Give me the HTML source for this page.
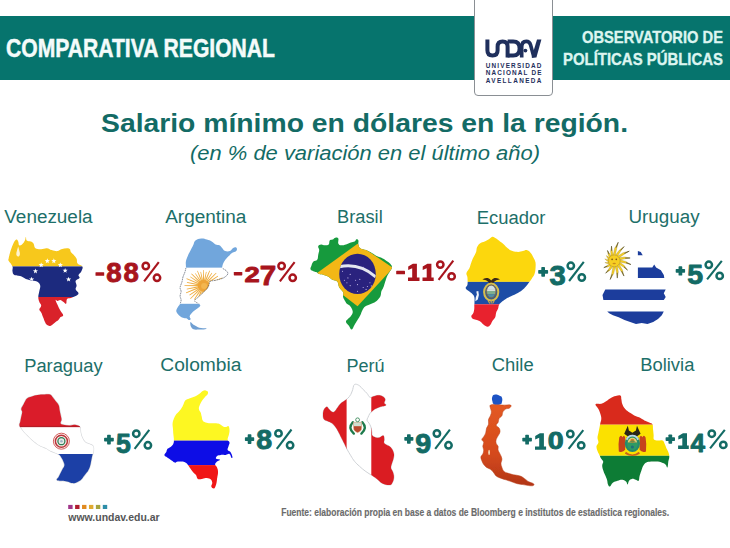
<!DOCTYPE html>
<html><head><meta charset="utf-8"><title>Comparativa regional</title>
<style>
html,body{margin:0;padding:0;background:#fff;}
body{width:730px;height:548px;overflow:hidden;font-family:"Liberation Sans",sans-serif;}
svg{display:block;font-family:"Liberation Sans",sans-serif;}
</style></head><body>
<svg width="730" height="548" viewBox="0 0 730 548">
<defs>
<filter id="soft" x="-5%" y="-5%" width="110%" height="110%"><feGaussianBlur stdDeviation="0.35"/></filter>
<clipPath id="c_ven"><path d="M8.6,258.7C9.0,256.8 9.6,254.1 10.5,251.1C11.5,248.0 12.3,245.7 13.4,243.4C14.6,241.1 15.3,240.0 16.3,239.6C17.2,239.2 17.6,240.3 18.2,241.5C18.8,242.6 18.4,244.8 19.2,245.3C19.9,245.9 20.9,245.3 22.0,244.4C23.2,243.4 24.1,242.1 24.9,240.5C25.7,239.0 25.5,236.7 25.9,236.7C26.2,236.7 25.9,239.6 26.8,240.5C27.8,241.5 29.3,240.9 30.7,241.5C32.0,242.1 32.6,242.1 33.5,243.4C34.5,244.8 33.9,247.0 35.4,248.2C37.0,249.3 38.9,249.2 41.2,249.2C43.5,249.2 44.8,248.0 46.9,248.2C49.0,248.4 49.6,249.5 51.7,250.1C53.8,250.7 55.6,251.3 57.5,251.1C59.4,250.9 59.4,249.7 61.3,249.2C63.2,248.6 65.3,248.2 67.0,248.2C68.8,248.2 69.2,248.4 69.9,249.2C70.7,249.9 70.1,250.9 70.9,252.0C71.6,253.2 72.6,253.6 73.8,254.9C74.9,256.2 75.9,257.0 76.6,258.7C77.4,260.5 76.4,262.0 77.6,263.5C78.7,265.1 81.6,264.9 82.4,266.4C83.1,267.9 82.2,269.5 81.4,271.2C80.7,272.9 78.9,273.7 78.5,275.0C78.2,276.4 80.1,276.7 79.5,277.9C78.9,279.0 76.2,279.2 75.7,280.8C75.1,282.3 76.6,283.8 76.6,285.6C76.6,287.3 75.3,287.9 75.7,289.4C76.1,290.9 78.5,291.9 78.5,293.2C78.5,294.6 77.2,295.1 75.7,296.1C74.1,297.0 72.6,297.4 70.9,298.0C69.2,298.6 68.0,297.8 67.0,299.0C66.1,300.1 66.9,303.2 66.1,303.8C65.3,304.3 64.4,302.6 63.2,301.8C62.1,301.1 61.5,300.1 60.3,299.9C59.2,299.7 58.4,300.9 57.5,300.9C56.5,300.9 55.6,299.2 55.6,299.9C55.6,300.7 56.5,302.6 57.5,304.7C58.4,306.8 59.2,308.4 60.3,310.5C61.5,312.6 63.2,313.9 63.2,315.2C63.2,316.6 61.3,316.2 60.3,317.2C59.4,318.1 59.4,319.1 58.4,320.0C57.5,321.0 57.1,320.8 55.6,322.0C54.0,323.1 52.5,325.2 50.8,325.8C49.0,326.4 48.1,325.6 46.9,324.8C45.8,324.1 45.8,323.5 45.0,322.0C44.3,320.4 43.9,319.1 43.1,317.2C42.3,315.2 42.0,313.9 41.2,312.4C40.4,310.8 39.3,310.8 39.3,309.5C39.3,308.2 41.2,307.2 41.2,305.7C41.2,304.1 39.8,303.6 39.3,301.8C38.7,300.1 38.3,299.2 38.3,297.0C38.3,294.9 38.9,293.6 39.3,291.3C39.7,289.0 40.6,287.5 40.2,285.6C39.8,283.6 38.9,282.7 37.4,281.7C35.8,280.8 34.9,281.3 32.6,280.8C30.3,280.2 28.4,279.8 25.9,278.9C23.4,277.9 22.4,276.7 20.1,276.0C17.8,275.2 15.9,276.0 14.4,275.0C12.8,274.1 12.8,272.9 12.5,271.2C12.1,269.5 13.2,268.5 12.5,266.4C11.7,264.3 9.4,262.2 8.6,260.7C7.9,259.1 8.2,260.7 8.6,258.7Z"/></clipPath>
<clipPath id="c_arg"><path d="M195.4,240.5C197.0,239.4 198.9,238.8 201.2,238.6C203.5,238.4 204.8,239.0 206.9,239.6C209.0,240.2 210.0,240.5 211.7,241.5C213.4,242.5 214.0,243.6 215.6,244.4C217.1,245.1 218.0,244.6 219.4,245.3C220.7,246.1 221.1,247.0 222.3,248.2C223.4,249.3 223.6,250.5 225.1,251.1C226.7,251.6 228.4,251.6 229.9,251.1C231.5,250.5 231.6,249.0 232.8,248.2C233.9,247.4 234.8,247.0 235.7,247.2C236.5,247.4 237.0,248.3 237.0,249.2C237.0,250.0 236.5,250.8 235.7,251.5C234.8,252.1 233.9,251.9 232.8,252.6C231.6,253.3 231.1,253.9 229.9,254.9C228.8,255.9 228.2,256.4 227.0,257.8C225.9,259.1 225.1,259.9 224.2,261.6C223.2,263.3 222.6,265.1 222.3,266.4C222.0,267.7 221.9,267.5 222.6,268.3C223.4,269.2 225.1,269.5 226.1,270.6C227.1,271.7 228.1,272.6 227.8,273.9C227.5,275.2 226.1,276.1 224.8,277.1C223.4,278.1 222.9,278.2 220.9,278.9C219.0,279.5 217.1,279.9 215.0,280.4C212.8,280.9 211.4,280.5 210.2,281.3C209.0,282.2 209.6,283.4 209.0,284.8C208.5,286.1 208.2,286.9 207.5,288.0C206.8,289.2 206.4,289.3 205.4,290.3C204.4,291.4 203.6,292.1 202.5,293.2C201.4,294.3 201.0,294.7 199.8,295.7C198.7,296.7 198.0,297.3 197.0,298.2C195.9,299.1 194.9,299.5 194.7,300.3C194.5,301.1 195.1,301.7 196.0,302.4C196.9,303.1 198.2,303.3 199.1,303.9C199.9,304.6 200.6,304.8 200.2,305.7C199.9,306.6 198.5,307.6 197.4,308.5C196.2,309.5 195.6,309.5 194.5,310.5C193.3,311.4 192.6,312.2 191.6,313.3C190.7,314.5 189.9,315.1 189.7,316.2C189.5,317.4 190.8,318.3 190.7,319.1C190.5,319.8 189.5,320.2 188.7,320.0C188.0,319.9 187.8,318.9 186.8,318.5C185.9,318.1 185.3,318.6 183.9,318.1C182.6,317.7 181.5,317.2 180.1,316.2C178.8,315.2 178.0,314.5 177.2,313.3C176.5,312.2 176.1,311.8 176.3,310.5C176.5,309.1 177.4,308.0 178.2,306.6C179.0,305.3 179.5,305.1 180.1,303.8C180.7,302.4 181.1,301.5 181.1,299.9C181.1,298.4 180.1,297.8 180.1,296.1C180.1,294.4 181.1,293.0 181.1,291.3C181.1,289.6 179.9,289.4 180.1,287.5C180.3,285.6 181.5,283.8 182.0,281.7C182.6,279.6 182.4,278.9 183.0,276.9C183.6,275.0 184.3,274.1 184.9,272.1C185.5,270.2 185.7,269.5 185.9,267.4C186.1,265.2 185.5,263.9 185.9,261.6C186.2,259.3 187.0,257.8 187.8,255.9C188.5,253.9 188.9,253.6 189.7,252.0C190.5,250.5 190.8,249.7 191.6,248.2C192.4,246.7 192.8,245.9 193.5,244.4C194.3,242.8 193.9,241.7 195.4,240.5Z"/></clipPath>
<clipPath id="c_arg2"><path d="M190.7,322.0C191.1,322.0 191.6,323.1 192.6,323.9C193.5,324.6 194.1,325.0 195.4,325.8C196.8,326.6 197.2,327.2 199.3,327.7C201.4,328.2 204.8,328.0 206.0,328.3C207.1,328.6 206.6,329.0 205.0,329.2C203.5,329.5 200.6,329.6 198.3,329.6C196.0,329.6 195.0,329.8 193.5,329.2C192.1,328.7 191.7,327.8 191.0,326.7C190.4,325.7 190.3,324.8 190.3,323.9C190.2,322.9 190.2,322.0 190.7,322.0Z"/></clipPath>
<clipPath id="c_bra"><path d="M318.2,246.3C318.6,245.1 319.7,244.6 321.1,244.4C322.4,244.2 323.4,245.3 324.9,245.3C326.4,245.3 327.8,245.3 328.7,244.4C329.7,243.4 328.9,241.5 329.7,240.5C330.5,239.6 331.4,240.2 332.6,239.6C333.7,239.0 334.3,237.9 335.4,237.7C336.6,237.5 337.7,237.5 338.3,238.6C338.9,239.8 337.7,242.1 338.3,243.4C338.9,244.8 339.7,245.1 341.2,245.3C342.7,245.5 344.1,244.9 346.0,244.4C347.9,243.8 349.0,243.0 350.8,242.5C352.5,241.9 353.4,242.1 354.6,241.5C355.7,240.8 355.7,239.4 356.5,239.2C357.3,239.0 358.0,239.5 358.4,240.5C358.8,241.6 358.0,242.8 358.4,244.4C358.8,245.9 358.8,247.0 360.3,248.2C361.9,249.3 363.8,249.2 366.1,250.1C368.4,251.1 369.7,251.8 371.8,253.0C373.9,254.1 374.7,254.9 376.6,255.9C378.5,256.8 379.5,256.8 381.4,257.8C383.3,258.7 384.5,259.5 386.2,260.7C387.9,261.8 388.9,262.2 390.0,263.5C391.2,264.9 392.0,265.8 392.0,267.4C392.0,268.9 391.0,269.5 390.0,271.2C389.1,272.9 388.1,273.9 387.2,276.0C386.2,278.1 386.0,279.4 385.2,281.7C384.5,284.0 384.1,285.6 383.3,287.5C382.6,289.4 382.0,289.6 381.4,291.3C380.8,293.0 381.2,294.4 380.5,296.1C379.7,297.8 378.9,298.6 377.6,299.9C376.2,301.3 375.5,301.8 373.8,302.8C372.0,303.8 370.7,303.9 369.0,304.7C367.2,305.5 366.5,305.5 365.1,306.6C363.8,307.8 363.2,308.7 362.3,310.5C361.3,312.2 361.3,313.3 360.3,315.2C359.4,317.2 358.6,318.1 357.5,320.0C356.3,322.0 355.7,322.9 354.6,324.8C353.4,326.7 352.9,329.4 351.7,329.6C350.6,329.8 350.0,327.3 348.9,325.8C347.7,324.3 346.2,323.3 346.0,322.0C345.8,320.6 346.9,320.2 347.9,319.1C348.9,317.9 349.8,317.5 350.8,316.2C351.7,314.9 352.5,313.9 352.7,312.4C352.9,310.8 352.3,309.9 351.7,308.5C351.1,307.2 350.8,306.6 349.8,305.7C348.9,304.7 347.9,304.7 346.9,303.8C346.0,302.8 345.8,302.2 345.0,300.9C344.3,299.5 343.5,298.8 343.1,297.0C342.7,295.3 343.9,294.2 343.1,292.3C342.3,290.3 340.4,289.6 339.3,287.5C338.1,285.4 338.7,283.3 337.4,281.7C336.0,280.2 334.3,280.8 332.6,279.8C330.8,278.9 330.5,277.9 328.7,276.9C327.0,276.0 325.9,275.6 323.9,275.0C322.0,274.4 320.7,274.6 319.2,274.1C317.6,273.5 317.4,272.7 316.3,272.1C315.1,271.6 314.6,271.8 313.4,271.2C312.3,270.6 310.9,270.4 310.5,269.3C310.2,268.1 310.9,267.0 311.5,265.4C312.1,263.9 312.3,262.8 313.4,261.6C314.6,260.5 316.3,261.0 317.2,259.7C318.2,258.4 317.8,256.8 318.2,254.9C318.6,253.0 319.2,251.8 319.2,250.1C319.2,248.4 317.8,247.4 318.2,246.3Z"/></clipPath>
<clipPath id="c_ecu"><path d="M492.4,236.7C493.9,236.5 494.7,237.7 496.2,238.6C497.7,239.6 498.5,240.3 500.0,241.5C501.6,242.6 502.3,243.0 503.9,244.4C505.4,245.7 506.0,246.9 507.7,248.2C509.4,249.5 510.4,250.3 512.5,251.1C514.6,251.8 516.1,252.0 518.2,252.0C520.3,252.0 521.3,251.5 523.0,251.1C524.7,250.7 525.3,249.7 526.8,250.1C528.4,250.5 529.3,251.5 530.7,253.0C532.0,254.5 532.6,255.9 533.5,257.8C534.5,259.7 535.1,260.5 535.5,262.6C535.8,264.7 535.7,266.0 535.5,268.3C535.3,270.6 535.3,272.0 534.5,274.1C533.7,276.2 532.8,277.1 531.6,278.9C530.5,280.6 529.9,281.1 528.8,282.7C527.6,284.2 527.2,285.0 525.9,286.5C524.5,288.0 523.8,289.0 522.0,290.3C520.3,291.7 519.4,292.1 517.3,293.2C515.2,294.4 513.8,294.9 511.5,296.1C509.2,297.2 507.7,297.8 505.8,299.0C503.9,300.1 503.3,300.7 501.9,301.8C500.6,303.0 499.8,303.4 499.1,304.7C498.3,306.1 498.7,307.0 498.1,308.5C497.5,310.1 496.8,310.7 496.2,312.4C495.6,314.1 496.0,315.4 495.2,317.2C494.5,318.9 493.3,319.5 492.4,321.0C491.4,322.5 491.4,323.7 490.4,324.8C489.5,326.0 488.9,326.7 487.6,326.7C486.2,326.7 485.1,325.8 483.7,324.8C482.4,323.9 482.2,322.9 480.9,322.0C479.5,321.0 478.6,320.6 477.0,320.0C475.5,319.5 474.3,319.8 473.2,319.1C472.0,318.3 471.3,317.4 471.3,316.2C471.3,315.1 472.6,314.7 473.2,313.3C473.8,312.0 473.9,311.1 474.2,309.5C474.4,307.9 474.3,306.8 474.3,305.3C474.4,303.8 474.5,303.7 474.5,302.0C474.5,300.4 474.8,298.7 474.3,297.0C473.9,295.4 473.4,295.1 472.4,294.0C471.4,292.9 470.7,292.6 469.4,291.5C468.0,290.3 466.1,289.7 465.7,288.2C465.3,286.8 467.1,286.5 467.5,284.4C467.8,282.3 467.6,280.2 467.5,277.9C467.3,275.6 466.1,275.0 466.5,273.1C466.9,271.2 468.4,270.4 469.4,268.3C470.3,266.2 470.5,264.7 471.3,262.6C472.0,260.5 472.2,259.9 473.2,257.8C474.2,255.7 475.3,254.1 476.1,252.0C476.8,249.9 476.3,249.0 477.0,247.2C477.8,245.5 478.4,244.6 479.9,243.4C481.4,242.3 483.0,242.3 484.7,241.5C486.4,240.7 487.0,240.5 488.5,239.6C490.1,238.6 490.8,236.9 492.4,236.7Z"/></clipPath>
<clipPath id="c_uru1"><path d="M637.9,251.1C638.5,250.4 639.8,251.2 640.8,252.0C641.7,252.9 643.3,254.6 642.7,255.3C642.1,255.9 638.9,256.1 637.9,255.3C636.9,254.4 637.3,251.7 637.9,251.1Z"/></clipPath>
<clipPath id="c_uru2"><path d="M637.9,267.4C640.8,265.2 649.0,267.9 652.3,267.4C655.5,266.8 653.4,264.5 654.2,264.5C654.9,264.5 654.8,266.2 656.1,267.4C657.4,268.5 659.3,268.7 660.9,270.2C662.4,271.8 663.1,273.5 663.8,275.0C664.4,276.6 669.5,277.3 664.3,277.9C659.2,278.5 643.2,280.0 637.9,277.9C632.6,275.8 635.0,269.5 637.9,267.4Z"/></clipPath>
<clipPath id="c_uru3"><path d="M605.3,289.4C617.6,289.0 654.0,288.6 665.7,289.4C677.4,290.2 663.8,291.7 663.8,293.2C663.8,294.8 665.7,295.7 665.7,297.0C665.7,298.4 676.2,299.3 663.8,299.9C651.3,300.5 615.7,300.9 603.4,299.9C591.1,299.0 602.3,296.9 602.5,295.1C602.6,293.4 603.8,292.5 604.4,291.3C604.9,290.2 593.1,289.8 605.3,289.4Z"/></clipPath>
<clipPath id="c_uru4"><path d="M607.2,311.4C618.2,311.0 652.8,310.7 663.8,311.4C674.7,312.2 663.0,313.7 661.8,315.2C660.7,316.8 659.7,317.7 658.0,319.1C656.3,320.4 655.3,321.0 653.2,322.0C651.1,322.9 649.8,323.7 647.5,323.9C645.2,324.1 644.0,322.9 641.7,322.9C639.4,322.9 638.3,324.1 636.0,323.9C633.7,323.7 632.5,322.7 630.2,322.0C627.9,321.2 626.8,321.0 624.5,320.0C622.2,319.1 621.0,318.1 618.7,317.2C616.4,316.2 614.9,316.0 613.0,315.2C611.1,314.5 610.3,314.1 609.2,313.3C608.0,312.6 596.3,311.8 607.2,311.4Z"/></clipPath>
<clipPath id="c_par"><path d="M27.0,398.4C28.4,397.5 29.7,397.2 31.8,396.5C33.9,395.8 35.1,395.3 37.6,395.0C40.1,394.6 41.8,394.7 44.3,394.6C46.8,394.5 48.3,394.0 50.0,394.6C51.7,395.2 51.7,396.1 52.9,397.5C54.0,398.8 54.6,399.8 55.8,401.3C56.9,402.8 57.9,403.4 58.6,405.1C59.4,406.8 59.2,408.0 59.6,409.9C60.0,411.8 60.2,412.8 60.6,414.7C60.9,416.6 61.5,417.8 61.5,419.5C61.5,421.2 60.2,422.2 60.6,423.3C60.9,424.4 61.7,424.4 63.4,424.8C65.2,425.3 67.1,425.6 69.2,425.6C71.3,425.6 72.2,424.8 74.0,424.8C75.7,424.8 76.6,425.1 77.8,425.6C79.0,426.1 79.5,426.1 80.1,427.5C80.7,429.0 80.2,430.7 80.7,432.9C81.2,435.1 81.6,436.7 82.6,438.6C83.5,440.6 83.9,441.3 85.5,442.5C87.0,443.6 88.7,443.6 90.2,444.4C91.8,445.2 92.5,445.0 93.1,446.3C93.8,447.6 93.7,449.2 93.5,451.1C93.3,453.0 92.6,454.0 92.2,455.9C91.7,457.8 91.6,458.8 91.2,460.7C90.8,462.6 90.8,463.5 90.2,465.5C89.7,467.4 89.3,468.5 88.3,470.2C87.4,472.0 86.6,472.5 85.5,474.1C84.3,475.6 83.7,476.6 82.6,477.9C81.4,479.3 81.1,479.8 79.7,480.8C78.4,481.7 77.4,482.2 75.9,482.7C74.3,483.2 73.6,483.3 72.0,483.1C70.5,482.9 69.9,482.2 68.2,481.7C66.5,481.3 65.2,481.0 63.4,480.8C61.7,480.6 60.9,481.0 59.6,480.8C58.3,480.6 56.9,480.6 56.7,479.8C56.5,479.1 57.9,478.3 58.6,477.0C59.4,475.6 59.8,474.7 60.6,473.1C61.3,471.6 61.7,470.8 62.5,469.3C63.2,467.8 64.2,467.0 64.4,465.5C64.6,463.9 64.0,463.2 63.4,461.6C62.9,460.1 62.3,459.1 61.5,457.8C60.7,456.5 60.7,455.9 59.6,454.9C58.4,454.0 57.5,453.8 55.8,453.0C54.0,452.2 52.9,452.0 51.0,451.1C49.1,450.1 48.1,449.2 46.2,448.2C44.3,447.3 43.3,447.3 41.4,446.3C39.5,445.3 38.5,444.8 36.6,443.4C34.7,442.1 33.5,441.1 31.8,439.6C30.1,438.1 29.5,437.3 28.0,435.8C26.5,434.2 25.5,433.5 24.2,431.9C22.8,430.4 22.2,429.4 21.3,428.1C20.3,426.8 19.6,426.6 19.4,425.2C19.2,423.9 19.9,423.1 20.3,421.4C20.7,419.7 20.9,418.5 21.3,416.6C21.7,414.7 22.2,413.4 22.2,411.8C22.2,410.3 21.1,410.3 21.3,408.9C21.5,407.6 22.4,406.6 23.2,405.1C24.0,403.6 24.3,402.6 25.1,401.3C25.9,399.9 25.7,399.4 27.0,398.4Z"/></clipPath>
<clipPath id="c_col"><path d="M205.6,390.4C206.6,390.5 207.5,390.9 207.9,391.7C208.2,392.5 208.1,393.4 207.5,394.6C206.8,395.7 205.7,396.1 204.6,397.5C203.4,398.8 202.7,399.8 201.7,401.3C200.8,402.8 200.4,403.6 199.8,405.1C199.2,406.6 198.7,407.4 198.9,408.9C199.0,410.5 200.2,411.2 200.8,412.8C201.3,414.3 201.3,415.1 201.7,416.6C202.1,418.1 201.9,419.3 202.7,420.4C203.4,421.6 204.0,421.8 205.6,422.4C207.1,422.9 208.2,423.1 210.3,423.3C212.5,423.5 214.2,423.1 216.1,423.3C218.0,423.5 218.6,423.7 219.9,424.3C221.3,424.8 221.6,425.6 222.8,426.2C223.9,426.8 224.5,427.1 225.7,427.1C226.8,427.1 227.8,425.6 228.5,426.2C229.3,426.8 229.4,428.3 229.5,430.0C229.6,431.7 229.3,432.9 228.9,434.8C228.5,436.7 227.5,438.1 227.6,439.6C227.7,441.1 229.3,441.1 229.5,442.5C229.7,443.8 228.9,444.8 228.5,446.3C228.2,447.8 227.2,449.0 227.6,450.1C228.0,451.3 229.5,450.7 230.5,452.0C231.4,453.4 232.2,455.7 232.4,456.8C232.6,458.0 232.0,458.4 231.4,457.8C230.8,457.2 230.7,454.5 229.5,454.0C228.4,453.4 227.4,454.7 225.7,454.9C223.9,455.1 222.6,454.7 220.9,454.9C219.2,455.1 218.0,455.1 217.0,455.9C216.1,456.6 215.5,458.0 216.1,458.8C216.7,459.5 219.7,459.1 219.9,459.7C220.1,460.3 218.0,460.7 217.0,461.6C216.1,462.6 215.1,463.4 215.1,464.5C215.1,465.7 216.5,465.8 217.0,467.4C217.6,468.9 218.0,469.9 218.0,472.2C218.0,474.5 217.4,476.4 217.0,478.9C216.7,481.4 216.7,482.7 216.1,484.6C215.5,486.5 215.1,488.1 214.2,488.4C213.2,488.8 211.7,487.7 211.3,486.5C210.9,485.4 212.5,484.2 212.3,482.7C212.1,481.2 211.7,479.8 210.3,478.9C209.0,477.9 207.3,477.9 205.6,477.9C203.8,477.9 203.3,478.7 201.7,478.9C200.2,479.1 199.0,479.6 197.9,478.9C196.7,478.1 196.9,476.4 196.0,475.0C195.0,473.7 194.3,473.5 193.1,472.2C192.0,470.8 191.2,469.7 190.2,468.3C189.3,467.0 189.3,466.6 188.3,465.5C187.4,464.3 186.8,463.4 185.4,462.6C184.1,461.8 183.1,461.8 181.6,461.6C180.1,461.4 179.1,461.4 177.8,461.6C176.4,461.8 176.1,462.8 174.9,462.6C173.8,462.4 173.2,461.4 172.0,460.7C170.9,459.9 170.3,459.5 169.2,458.8C168.0,458.0 167.2,457.6 166.3,456.8C165.3,456.1 164.4,455.9 164.4,454.9C164.4,454.0 165.7,453.2 166.3,452.0C166.9,450.9 166.5,450.1 167.2,449.2C168.0,448.2 169.0,448.2 170.1,447.3C171.3,446.3 172.2,445.7 173.0,444.4C173.8,443.0 173.9,442.5 173.9,440.6C174.0,438.6 173.6,437.1 173.4,434.8C173.2,432.5 173.1,431.4 173.0,429.1C172.8,426.8 172.4,425.4 172.6,423.3C172.8,421.2 173.3,420.2 173.9,418.5C174.6,416.8 174.9,416.0 175.9,414.7C176.8,413.4 177.6,413.2 178.7,411.8C179.9,410.5 180.7,409.5 181.6,408.0C182.6,406.5 182.8,405.7 183.5,404.2C184.3,402.6 184.3,401.5 185.4,400.3C186.6,399.2 187.4,399.2 189.3,398.4C191.2,397.6 192.9,397.5 195.0,396.5C197.1,395.5 198.3,394.7 199.8,393.6C201.3,392.5 201.5,391.8 202.7,391.1C203.8,390.5 204.5,390.2 205.6,390.4Z"/></clipPath>
<clipPath id="c_per"><path d="M355.6,384.2C356.7,384.2 357.9,384.7 359.4,385.7C360.9,386.8 361.7,388.0 363.2,389.6C364.8,391.1 365.7,391.9 367.0,393.4C368.4,394.9 368.6,396.7 369.9,397.2C371.3,397.8 372.0,396.7 373.8,396.3C375.5,395.9 376.8,395.3 378.5,395.3C380.3,395.3 381.0,395.5 382.4,396.3C383.7,397.0 384.9,397.8 385.2,399.2C385.6,400.5 384.1,401.8 384.3,403.0C384.5,404.1 386.2,404.3 386.2,404.9C386.2,405.5 385.4,405.5 384.3,405.9C383.1,406.2 382.2,406.2 380.5,406.8C378.7,407.4 377.2,408.0 375.7,408.7C374.1,409.5 373.9,409.7 372.8,410.7C371.6,411.6 370.9,412.2 369.9,413.5C369.0,414.9 368.6,416.0 368.0,417.4C367.4,418.7 366.9,419.1 367.0,420.2C367.2,421.4 368.2,421.8 369.0,423.1C369.7,424.4 370.3,425.2 370.9,426.9C371.5,428.7 371.5,430.0 371.8,431.7C372.1,433.4 371.6,434.4 372.4,435.6C373.2,436.7 374.3,437.1 375.7,437.5C377.1,437.9 378.0,437.9 379.5,437.5C381.0,437.1 382.4,435.2 383.3,435.6C384.3,435.9 384.1,437.9 384.3,439.4C384.5,440.9 383.3,441.9 384.3,443.2C385.2,444.6 387.5,444.9 389.1,446.1C390.6,447.2 391.0,447.4 392.0,449.0C392.9,450.5 393.6,451.8 393.9,453.8C394.2,455.7 393.9,456.6 393.5,458.5C393.1,460.5 392.5,461.4 392.0,463.3C391.5,465.2 390.8,466.4 391.0,468.1C391.2,469.8 392.3,470.0 392.9,472.0C393.5,473.9 394.1,475.4 393.9,477.7C393.7,480.0 392.9,482.0 392.0,483.4C391.0,484.9 391.0,485.0 389.1,485.0C387.2,485.0 384.9,484.7 382.4,483.4C379.9,482.2 378.9,480.4 376.6,478.7C374.3,476.9 373.2,476.4 370.9,474.8C368.6,473.3 367.4,472.7 365.1,471.0C362.8,469.3 361.5,468.1 359.4,466.2C357.3,464.3 356.3,463.5 354.6,461.4C352.9,459.3 352.3,458.2 350.8,455.7C349.2,453.2 348.3,451.5 346.9,449.0C345.6,446.5 345.2,445.5 344.1,443.2C342.9,440.9 342.3,439.8 341.2,437.5C340.0,435.2 339.5,433.8 338.3,431.7C337.2,429.6 336.8,428.7 335.4,426.9C334.1,425.2 333.1,424.3 331.6,423.1C330.1,422.0 329.3,422.0 327.8,421.2C326.2,420.4 324.9,420.6 323.9,419.3C323.0,417.9 323.0,416.4 323.0,414.5C323.0,412.6 323.2,411.2 323.9,409.7C324.7,408.2 325.9,407.0 326.8,406.8C327.8,406.6 327.8,407.8 328.7,408.7C329.7,409.7 330.5,411.0 331.6,411.6C332.8,412.2 333.3,412.4 334.5,411.6C335.6,410.8 336.2,409.3 337.4,407.8C338.5,406.2 338.9,405.3 340.2,403.9C341.6,402.6 342.5,402.2 344.1,401.1C345.6,399.9 346.6,399.5 347.9,398.2C349.2,396.9 349.8,396.1 350.8,394.4C351.7,392.6 352.1,391.3 352.7,389.6C353.3,387.9 353.1,386.8 353.6,385.7C354.2,384.7 354.4,384.2 355.6,384.2Z"/></clipPath>
<clipPath id="c_chi_b"><path d="M492.4,396.5C492.9,395.2 493.9,394.8 495.2,394.6C496.6,394.4 497.7,395.0 499.1,395.5C500.4,396.1 501.4,396.1 501.9,397.5C502.5,398.8 502.3,400.9 501.9,402.2C501.6,403.6 501.6,403.8 500.0,404.2C498.5,404.5 495.8,404.7 494.3,404.2C492.7,403.6 492.7,402.8 492.4,401.3C492.0,399.8 491.8,397.8 492.4,396.5Z"/></clipPath>
<clipPath id="c_chi"><path d="M490.4,405.1C491.6,404.3 493.7,404.2 496.2,404.2C498.7,404.2 500.0,404.9 502.9,405.1C505.8,405.3 509.2,404.5 510.6,405.1C511.9,405.7 510.6,407.2 509.6,408.0C508.6,408.8 507.1,408.2 505.8,408.9C504.4,409.7 503.7,410.5 502.9,411.8C502.1,413.2 502.7,414.3 501.9,415.7C501.2,417.0 499.8,417.2 499.1,418.5C498.3,419.9 498.7,421.0 498.1,422.4C497.5,423.7 496.0,424.1 496.2,425.2C496.4,426.4 498.3,426.8 499.1,428.1C499.8,429.4 500.2,430.4 500.0,431.9C499.8,433.5 498.9,434.2 498.1,435.8C497.3,437.3 496.6,438.1 496.2,439.6C495.8,441.1 495.8,442.1 496.2,443.4C496.6,444.8 497.7,445.0 498.1,446.3C498.5,447.6 497.7,448.6 498.1,450.1C498.5,451.7 499.3,452.2 500.0,454.0C500.8,455.7 501.7,456.8 501.9,458.8C502.1,460.7 501.0,461.8 501.0,463.5C501.0,465.3 501.4,465.8 501.9,467.4C502.5,468.9 502.7,470.1 503.9,471.2C505.0,472.4 505.8,472.4 507.7,473.1C509.6,473.8 510.9,474.1 513.4,474.7C515.9,475.2 517.8,475.2 520.1,476.0C522.4,476.8 523.2,477.7 524.9,478.9C526.6,480.0 527.0,480.8 528.8,481.7C530.5,482.7 532.7,482.9 533.5,483.7C534.4,484.4 534.1,485.2 533.2,485.6C532.2,486.0 530.8,485.8 528.8,485.6C526.7,485.4 525.3,485.0 523.0,484.6C520.7,484.2 519.6,484.2 517.3,483.7C515.0,483.1 513.8,482.5 511.5,481.7C509.2,481.0 508.1,480.6 505.8,479.8C503.5,479.1 501.9,478.7 500.0,477.9C498.1,477.1 497.5,477.1 496.2,476.0C494.8,474.8 494.5,473.5 493.3,472.2C492.2,470.8 491.8,470.2 490.4,469.3C489.1,468.3 488.0,468.3 486.6,467.4C485.3,466.4 484.7,465.8 483.7,464.5C482.8,463.2 482.4,462.2 481.8,460.7C481.2,459.1 480.7,458.2 480.9,456.8C481.1,455.5 482.2,455.3 482.8,454.0C483.4,452.6 483.7,451.7 483.7,450.1C483.7,448.6 482.8,447.8 482.8,446.3C482.8,444.8 483.9,443.8 483.7,442.5C483.5,441.1 481.8,440.7 481.8,439.6C481.8,438.4 483.0,438.1 483.7,436.7C484.5,435.4 485.1,434.6 485.7,432.9C486.2,431.2 486.0,429.8 486.6,428.1C487.2,426.4 488.1,426.0 488.5,424.3C488.9,422.5 488.1,421.2 488.5,419.5C488.9,417.8 489.9,417.2 490.4,415.7C491.0,414.1 491.4,413.4 491.4,411.8C491.4,410.3 490.6,409.3 490.4,408.0C490.2,406.6 489.3,405.9 490.4,405.1Z"/></clipPath>
<clipPath id="c_bol"><path d="M595.5,404.2C596.1,403.1 599.2,404.3 601.3,403.8C603.4,403.2 604.2,402.4 606.1,401.3C608.0,400.1 608.9,399.1 610.9,398.0C612.8,397.0 613.7,396.6 615.7,396.1C617.6,395.6 619.3,394.9 620.4,395.5C621.6,396.2 621.0,397.6 621.4,399.4C621.8,401.1 621.6,402.2 622.4,404.2C623.1,406.1 623.7,407.2 625.2,408.9C626.8,410.7 628.1,411.4 630.0,412.8C631.9,414.1 632.9,414.7 634.8,415.7C636.7,416.6 637.7,416.6 639.6,417.6C641.5,418.5 642.5,419.5 644.4,420.4C646.3,421.4 647.6,421.6 649.2,422.4C650.8,423.1 651.7,422.9 652.4,424.3C653.2,425.6 652.8,427.0 653.0,429.1C653.2,431.2 653.4,432.7 653.6,434.8C653.8,436.9 653.1,438.4 654.0,439.6C654.8,440.7 656.1,440.4 657.8,440.6C659.5,440.7 661.2,440.0 662.6,440.6C663.9,441.1 663.7,441.9 664.5,443.4C665.3,445.0 665.7,446.5 666.4,448.2C667.2,449.9 667.8,450.3 668.3,452.0C668.9,453.8 669.3,454.9 669.3,456.8C669.3,458.8 668.7,459.5 668.3,461.6C668.0,463.7 668.0,466.8 667.4,467.4C666.8,468.0 666.6,465.5 665.5,464.5C664.3,463.5 663.4,463.2 661.6,462.6C659.9,462.0 658.9,461.8 656.8,461.6C654.7,461.4 653.2,461.4 651.1,461.6C649.0,461.8 647.8,461.8 646.3,462.6C644.8,463.4 644.4,463.9 643.4,465.5C642.5,467.0 642.3,468.1 641.5,470.2C640.7,472.4 640.2,473.9 639.6,476.0C639.0,478.1 639.4,480.0 638.6,480.8C637.9,481.6 637.1,480.2 635.8,479.8C634.4,479.4 633.3,478.7 631.9,478.9C630.6,479.1 629.9,479.6 629.1,480.8C628.2,481.9 628.1,484.4 627.5,484.6C627.0,484.8 627.2,482.7 626.2,481.7C625.2,480.8 624.1,480.0 622.4,479.8C620.6,479.6 619.5,480.2 617.6,480.8C615.7,481.4 614.3,481.6 612.8,482.7C611.2,483.9 610.9,486.1 609.9,486.5C608.9,486.9 608.6,486.0 608.0,484.6C607.4,483.3 607.6,481.7 607.0,479.8C606.5,477.9 605.9,477.0 605.1,475.0C604.3,473.1 603.8,472.2 603.2,470.2C602.6,468.3 602.2,467.2 602.2,465.5C602.2,463.7 603.4,463.0 603.2,461.6C603.0,460.3 602.0,460.1 601.3,458.8C600.5,457.4 600.1,456.5 599.4,454.9C598.6,453.4 598.0,452.8 597.5,451.1C596.9,449.4 596.3,448.0 596.5,446.3C596.7,444.6 598.2,444.2 598.4,442.5C598.6,440.7 597.5,439.6 597.5,437.7C597.5,435.8 598.0,434.8 598.4,432.9C598.8,431.0 599.0,430.0 599.4,428.1C599.8,426.2 599.9,425.2 600.3,423.3C600.7,421.4 601.3,420.4 601.3,418.5C601.3,416.6 600.9,415.7 600.3,413.7C599.8,411.8 599.4,410.9 598.4,408.9C597.5,407.0 595.0,405.2 595.5,404.2Z"/></clipPath>
</defs>
<rect width="730" height="548" fill="#ffffff"/>
<rect x="0" y="16" width="730" height="64" fill="#06746d"/>
<path d="M474.5,-2 V92 Q474.5,95.5 478,95.5 H549 Q552.5,95.5 552.5,92 V-2 Z" fill="#ffffff" stroke="#8a8f94" stroke-width="1"/>
<text x="6" y="57" font-size="25.2" font-weight="bold" fill="#f4fbfa" stroke="#f4fbfa" stroke-width="0.5" textLength="269" lengthAdjust="spacingAndGlyphs">COMPARATIVA REGIONAL</text>
<text x="582" y="43.3" font-size="16.4" font-weight="bold" fill="#dcf5f0" stroke="#dcf5f0" stroke-width="0.35" textLength="141" lengthAdjust="spacingAndGlyphs">OBSERVATORIO DE</text>
<text x="563" y="64.8" font-size="16.4" font-weight="bold" fill="#dcf5f0" stroke="#dcf5f0" stroke-width="0.35" textLength="160" lengthAdjust="spacingAndGlyphs">POLÍTICAS PÚBLICAS</text>
<g fill="none" stroke="#1f2f5c" stroke-width="4" stroke-linejoin="round">
<path d="M487.4,39.5 V50.2 Q487.4,55.5 492.5,55.5 Q497.6,55.5 497.6,50.2 V46.8 Q497.6,41.5 502.6,41.5 Q507.6,41.5 507.6,46.8 V57.5"/>
<path d="M507.6,41.5 H513.2 Q519.6,41.5 519.6,48.5 Q519.6,55.5 513.2,55.5 H507.6"/>
</g>
<path d="M521.7,57.5 V47 Q521.7,41.4 526.3,41.4 Q529.6,41.4 530.6,45 L534,57.5" fill="none" stroke="#1f2f5c" stroke-width="3.6"/>
<polygon points="531.6,57.5 536.4,57.5 541.4,39.5 537.0,39.5" fill="#1f2f5c"/>
<circle cx="525.4" cy="50.6" r="1.9" fill="#1f2f5c"/>
<text x="485.8" y="68.1" font-size="6.4" font-weight="bold" fill="#1f2f5c" textLength="55.6" lengthAdjust="spacing">UNIVERSIDAD</text>
<text x="485.8" y="75.4" font-size="6.4" font-weight="bold" fill="#1f2f5c" textLength="55.6" lengthAdjust="spacing">NACIONAL DE</text>
<text x="485.8" y="82.8" font-size="6.4" font-weight="bold" fill="#1f2f5c" textLength="55.6" lengthAdjust="spacing">AVELLANEDA</text>
<text x="101" y="131.8" font-size="26.6" font-weight="bold" fill="#136b65" textLength="527" lengthAdjust="spacingAndGlyphs">Salario mínimo en dólares en la región.</text>
<text x="190" y="160.4" font-size="19.6" font-style="italic" fill="#136b65" textLength="350" lengthAdjust="spacingAndGlyphs">(en % de variación en el último año)</text>
<text x="4.3" y="222.8" font-size="18" fill="#1d6f69" textLength="88.3" lengthAdjust="spacingAndGlyphs">Venezuela</text>
<text x="165.2" y="222.8" font-size="18" fill="#1d6f69" textLength="81.2" lengthAdjust="spacingAndGlyphs">Argentina</text>
<text x="337.1" y="223" font-size="18" fill="#1d6f69" textLength="45.6" lengthAdjust="spacingAndGlyphs">Brasil</text>
<text x="476.7" y="223.6" font-size="18" fill="#1d6f69" textLength="68.7" lengthAdjust="spacingAndGlyphs">Ecuador</text>
<text x="628.5" y="222.8" font-size="18" fill="#1d6f69" textLength="71.2" lengthAdjust="spacingAndGlyphs">Uruguay</text>
<text x="24.2" y="372" font-size="18" fill="#1d6f69" textLength="78.4" lengthAdjust="spacingAndGlyphs">Paraguay</text>
<text x="160.3" y="371.4" font-size="18" fill="#1d6f69" textLength="81.2" lengthAdjust="spacingAndGlyphs">Colombia</text>
<text x="346.4" y="372" font-size="18" fill="#1d6f69" textLength="38.1" lengthAdjust="spacingAndGlyphs">Perú</text>
<text x="491.7" y="370.8" font-size="18" fill="#1d6f69" textLength="42.0" lengthAdjust="spacingAndGlyphs">Chile</text>
<text x="640.2" y="371.4" font-size="18" fill="#1d6f69" textLength="54.2" lengthAdjust="spacingAndGlyphs">Bolivia</text>
<rect x="95.5" y="272.2" width="8.7" height="3.6" rx="0.6" fill="#a8151d"/>
<text transform="translate(106.37 281.58) scale(0.987 1)" font-size="28.11" font-weight="bold" fill="#a8151d" stroke="#a8151d" stroke-width="0.9" stroke-linejoin="round" paint-order="stroke" >8</text>
<text transform="translate(123.48 281.58) scale(0.980 1)" font-size="28.11" font-weight="bold" fill="#a8151d" stroke="#a8151d" stroke-width="0.9" stroke-linejoin="round" paint-order="stroke" >8</text>
<g fill="none" stroke="#a8151d"><circle cx="145.80" cy="266.00" r="3.2" stroke-width="2.5"/><circle cx="157.00" cy="277.80" r="3.2" stroke-width="2.5"/><line x1="158.80" y1="262.10" x2="144.10" y2="281.30" stroke-width="2.1"/></g>
<rect x="233.8" y="271.9" width="8.5" height="3.5" rx="0.6" fill="#a8151d"/>
<text transform="translate(244.40 281.55) scale(1.212 1)" font-size="22.63" font-weight="bold" fill="#a8151d" stroke="#a8151d" stroke-width="0.9" stroke-linejoin="round" paint-order="stroke" >2</text>
<text transform="translate(259.78 285.15) scale(1.084 1)" font-size="27.33" font-weight="bold" fill="#a8151d" stroke="#a8151d" stroke-width="0.9" stroke-linejoin="round" paint-order="stroke" >7</text>
<g fill="none" stroke="#a8151d"><circle cx="281.60" cy="266.00" r="3.2" stroke-width="2.5"/><circle cx="292.70" cy="277.80" r="3.2" stroke-width="2.5"/><line x1="294.60" y1="262.10" x2="279.90" y2="281.30" stroke-width="2.1"/></g>
<rect x="396.2" y="270.8" width="8.8" height="3.5" rx="0.6" fill="#a8151d"/>
<path d="M408.00,280.90 V277.60 H412.20 V268.30 L408.20,269.90 V266.40 L412.90,263.70 H416.90 V277.60 H419.50 V280.90 Z" fill="#a8151d"/>
<path d="M422.50,280.90 V277.60 H426.70 V268.30 L422.70,269.90 V266.40 L427.40,263.70 H431.40 V277.60 H433.70 V280.90 Z" fill="#a8151d"/>
<g fill="none" stroke="#a8151d"><circle cx="440.30" cy="264.60" r="3.2" stroke-width="2.5"/><circle cx="451.60" cy="276.40" r="3.2" stroke-width="2.5"/><line x1="453.30" y1="260.70" x2="438.60" y2="279.90" stroke-width="2.1"/></g>
<rect x="538.2" y="270.05" width="9.9" height="3.7" rx="0.7" fill="#136b65"/><rect x="541.30" y="267" width="3.7" height="9.8" rx="0.7" fill="#136b65"/>
<text transform="translate(549.48 284.85) scale(1.084 1)" font-size="26.92" font-weight="bold" fill="#136b65" stroke="#136b65" stroke-width="0.9" stroke-linejoin="round" paint-order="stroke" >3</text>
<g fill="none" stroke="#136b65"><circle cx="570.80" cy="265.80" r="3.2" stroke-width="2.5"/><circle cx="581.80" cy="277.50" r="3.2" stroke-width="2.5"/><line x1="583.80" y1="261.90" x2="569.10" y2="281.00" stroke-width="2.1"/></g>
<rect x="675.7" y="269.05" width="9.4" height="3.7" rx="0.7" fill="#136b65"/><rect x="678.55" y="266.2" width="3.7" height="9.4" rx="0.7" fill="#136b65"/>
<text transform="translate(687.37 283.58) scale(1.026 1)" font-size="27.80" font-weight="bold" fill="#136b65" stroke="#136b65" stroke-width="0.9" stroke-linejoin="round" paint-order="stroke" >5</text>
<g fill="none" stroke="#136b65"><circle cx="708.80" cy="264.80" r="3.2" stroke-width="2.5"/><circle cx="719.70" cy="275.90" r="3.2" stroke-width="2.5"/><line x1="721.80" y1="260.90" x2="707.10" y2="279.40" stroke-width="2.1"/></g>
<rect x="104.1" y="437.70" width="9.7" height="3.7" rx="0.7" fill="#136b65"/><rect x="107.10" y="434.7" width="3.7" height="9.7" rx="0.7" fill="#136b65"/>
<text transform="translate(116.03 452.88) scale(0.961 1)" font-size="27.80" font-weight="bold" fill="#136b65" stroke="#136b65" stroke-width="0.9" stroke-linejoin="round" paint-order="stroke" >5</text>
<g fill="none" stroke="#136b65"><circle cx="136.30" cy="433.70" r="3.2" stroke-width="2.5"/><circle cx="147.90" cy="445.30" r="3.2" stroke-width="2.5"/><line x1="149.30" y1="429.80" x2="134.60" y2="448.80" stroke-width="2.1"/></g>
<rect x="244.9" y="437.25" width="9.3" height="3.7" rx="0.7" fill="#136b65"/><rect x="247.70" y="434.2" width="3.7" height="9.8" rx="0.7" fill="#136b65"/>
<text transform="translate(256.24 449.07) scale(1.011 1)" font-size="28.25" font-weight="bold" fill="#136b65" stroke="#136b65" stroke-width="0.9" stroke-linejoin="round" paint-order="stroke" >8</text>
<g fill="none" stroke="#136b65"><circle cx="278.50" cy="433.40" r="3.2" stroke-width="2.5"/><circle cx="290.10" cy="445.30" r="3.2" stroke-width="2.5"/><line x1="291.50" y1="429.50" x2="276.80" y2="448.80" stroke-width="2.1"/></g>
<rect x="404.3" y="437.10" width="9.1" height="3.7" rx="0.7" fill="#136b65"/><rect x="407.00" y="434.2" width="3.7" height="9.5" rx="0.7" fill="#136b65"/>
<text transform="translate(415.26 452.88) scale(1.037 1)" font-size="27.68" font-weight="bold" fill="#136b65" stroke="#136b65" stroke-width="0.9" stroke-linejoin="round" paint-order="stroke" >9</text>
<g fill="none" stroke="#136b65"><circle cx="436.90" cy="433.50" r="3.2" stroke-width="2.5"/><circle cx="448.50" cy="445.30" r="3.2" stroke-width="2.5"/><line x1="449.90" y1="429.60" x2="435.20" y2="448.80" stroke-width="2.1"/></g>
<rect x="522.3" y="437.80" width="9.6" height="3.7" rx="0.7" fill="#136b65"/><rect x="525.25" y="434.7" width="3.7" height="9.9" rx="0.7" fill="#136b65"/>
<path d="M535.00,449.80 V446.50 H539.20 V437.80 L535.20,439.40 V435.90 L539.90,433.20 H543.90 V446.50 H546.10 V449.80 Z" fill="#136b65"/>
<text transform="translate(547.82 449.43) scale(1.242 1)" font-size="23.02" font-weight="bold" fill="#136b65" stroke="#136b65" stroke-width="0.9" stroke-linejoin="round" paint-order="stroke" >0</text>
<g fill="none" stroke="#136b65"><circle cx="570.30" cy="434.00" r="3.2" stroke-width="2.5"/><circle cx="581.20" cy="445.40" r="3.2" stroke-width="2.5"/><line x1="583.30" y1="430.10" x2="568.60" y2="448.90" stroke-width="2.1"/></g>
<rect x="665.6" y="437.30" width="9.4" height="3.7" rx="0.7" fill="#136b65"/><rect x="668.45" y="434.5" width="3.7" height="9.3" rx="0.7" fill="#136b65"/>
<path d="M678.10,448.90 V445.60 H682.30 V437.90 L678.30,439.50 V436.00 L683.00,433.30 H687.00 V445.60 H688.80 V448.90 Z" fill="#136b65"/>
<text transform="translate(690.45 452.35) scale(0.993 1)" font-size="26.31" font-weight="bold" fill="#136b65" stroke="#136b65" stroke-width="0.9" stroke-linejoin="round" paint-order="stroke" >4</text>
<g fill="none" stroke="#136b65"><circle cx="711.80" cy="433.70" r="3.2" stroke-width="2.5"/><circle cx="723.30" cy="444.90" r="3.2" stroke-width="2.5"/><line x1="724.80" y1="429.80" x2="710.10" y2="448.40" stroke-width="2.1"/></g>
<g filter="url(#soft)">
<g clip-path="url(#c_ven)"><rect x="0" y="230" width="100" height="36.4" fill="#f7c81a"/><rect x="0" y="266.4" width="100" height="30.6" fill="#1c2a7e"/><rect x="0" y="297" width="100" height="40" fill="#d9202c"/>
<path d="M18.2,246.5 q0.8,3 1.6,6 q0.6,3.6 -1.6,4.2 q-2.4,-0.4 -1.8,-4 q0.8,-3.4 1.8,-6.2z" fill="#fff4cf"/>
<polygon points="31.6,276.7 32.3,278.5 34.2,278.6 32.7,279.8 33.2,281.6 31.6,280.6 30.0,281.6 30.5,279.8 29.0,278.6 30.9,278.5" fill="#fff"/>
<polygon points="35.4,268.5 36.1,270.3 38.0,270.4 36.5,271.5 37.0,273.4 35.4,272.3 33.9,273.4 34.4,271.5 32.9,270.4 34.8,270.3" fill="#fff"/>
<polygon points="41.2,262.4 41.9,264.1 43.8,264.2 42.3,265.4 42.8,267.2 41.2,266.2 39.6,267.2 40.1,265.4 38.6,264.2 40.5,264.1" fill="#fff"/>
<polygon points="47.3,258.3 48.0,260.1 49.9,260.2 48.4,261.4 48.9,263.2 47.3,262.2 45.7,263.2 46.2,261.4 44.8,260.2 46.7,260.1" fill="#fff"/>
<polygon points="53.8,258.3 54.5,260.1 56.4,260.2 54.9,261.4 55.4,263.2 53.8,262.2 52.2,263.2 52.8,261.4 51.3,260.2 53.2,260.1" fill="#fff"/>
<polygon points="60.3,262.4 61.0,264.1 62.9,264.2 61.4,265.4 61.9,267.2 60.3,266.2 58.8,267.2 59.3,265.4 57.8,264.2 59.7,264.1" fill="#fff"/>
<polygon points="65.1,267.9 65.8,269.7 67.7,269.8 66.2,271.0 66.7,272.8 65.1,271.7 63.5,272.8 64.1,271.0 62.6,269.8 64.5,269.7" fill="#fff"/>
<polygon points="68.6,276.7 69.2,278.5 71.2,278.6 69.7,279.8 70.2,281.6 68.6,280.6 67.0,281.6 67.5,279.8 66.0,278.6 67.9,278.5" fill="#fff"/>
</g>
<g clip-path="url(#c_arg)"><rect x="160" y="230" width="100" height="37.8" fill="#71a6dc"/><rect x="160" y="267.8" width="100" height="36" fill="#ffffff"/><rect x="160" y="303.8" width="100" height="40" fill="#71a6dc"/>
<g fill="#efae42">
<polygon points="208.0,285.1 225.5,285.2 225.5,286.2 208.0,286.3"/>
<polygon points="208.0,286.0 222.8,289.1 222.7,289.9 207.8,287.2"/>
<polygon points="207.9,286.8 223.3,293.4 223.0,294.3 207.4,288.0"/>
<polygon points="207.5,287.7 219.1,295.7 218.7,296.3 206.9,288.7"/>
<polygon points="207.1,288.4 217.8,299.4 217.2,300.0 206.2,289.3"/>
<polygon points="206.5,289.1 213.4,299.8 212.8,300.2 205.5,289.7"/>
<polygon points="205.8,289.6 211.0,302.8 210.3,303.1 204.6,290.1"/>
<polygon points="205.0,290.0 207.1,301.8 206.4,301.9 203.8,290.2"/>
<polygon points="204.1,290.2 203.9,303.9 203.1,303.9 202.9,290.2"/>
<polygon points="203.2,290.2 200.6,301.9 200.0,301.7 202.0,290.0"/>
<polygon points="202.4,290.1 196.9,302.8 196.1,302.5 201.2,289.6"/>
<polygon points="201.5,289.7 194.6,299.7 194.0,299.3 200.5,289.1"/>
<polygon points="200.8,289.3 190.6,299.1 190.1,298.6 199.9,288.4"/>
<polygon points="200.1,288.7 189.7,295.4 189.3,294.8 199.5,287.7"/>
<polygon points="199.6,288.0 186.2,293.3 185.9,292.6 199.1,286.8"/>
<polygon points="199.2,287.2 186.8,289.4 186.7,288.7 199.0,286.0"/>
<polygon points="199.0,286.3 184.5,286.1 184.5,285.3 199.0,285.1"/>
<polygon points="199.0,285.4 186.8,282.7 187.0,282.0 199.2,284.2"/>
<polygon points="199.1,284.6 186.4,279.0 186.7,278.3 199.6,283.4"/>
<polygon points="199.5,283.7 190.1,277.1 190.4,276.6 200.1,282.7"/>
<polygon points="199.9,283.0 191.2,273.9 191.7,273.4 200.8,282.1"/>
<polygon points="200.5,282.3 195.0,273.6 195.5,273.2 201.5,281.7"/>
<polygon points="201.2,281.8 197.1,271.1 197.7,270.8 202.4,281.3"/>
<polygon points="202.0,281.4 200.4,271.9 201.0,271.8 203.2,281.2"/>
<polygon points="202.9,281.2 203.2,270.1 203.8,270.1 204.1,281.2"/>
<polygon points="203.8,281.2 206.0,271.7 206.6,271.9 205.0,281.4"/>
<polygon points="204.6,281.3 209.4,270.6 210.0,270.9 205.8,281.8"/>
<polygon points="205.5,281.7 211.7,272.8 212.2,273.2 206.5,282.3"/>
<polygon points="206.2,282.1 216.0,272.7 216.5,273.2 207.1,283.0"/>
<polygon points="206.9,282.7 217.7,275.8 218.1,276.4 207.5,283.7"/>
<polygon points="207.4,283.4 222.3,277.4 222.7,278.2 207.9,284.6"/>
<polygon points="207.8,284.2 222.5,281.5 222.6,282.3 208.0,285.4"/>
</g>
<circle cx="203.5" cy="285.7" r="5.6" fill="#eda437"/>
<circle cx="204.1" cy="286.1" r="3" fill="#f3b650"/>
</g>
<clipPath id="bandarg"><rect x="160" y="268" width="100" height="35.6"/></clipPath>
<path d="M195.4,240.5C197.0,239.4 198.9,238.8 201.2,238.6C203.5,238.4 204.8,239.0 206.9,239.6C209.0,240.2 210.0,240.5 211.7,241.5C213.4,242.5 214.0,243.6 215.6,244.4C217.1,245.1 218.0,244.6 219.4,245.3C220.7,246.1 221.1,247.0 222.3,248.2C223.4,249.3 223.6,250.5 225.1,251.1C226.7,251.6 228.4,251.6 229.9,251.1C231.5,250.5 231.6,249.0 232.8,248.2C233.9,247.4 234.8,247.0 235.7,247.2C236.5,247.4 237.0,248.3 237.0,249.2C237.0,250.0 236.5,250.8 235.7,251.5C234.8,252.1 233.9,251.9 232.8,252.6C231.6,253.3 231.1,253.9 229.9,254.9C228.8,255.9 228.2,256.4 227.0,257.8C225.9,259.1 225.1,259.9 224.2,261.6C223.2,263.3 222.6,265.1 222.3,266.4C222.0,267.7 221.9,267.5 222.6,268.3C223.4,269.2 225.1,269.5 226.1,270.6C227.1,271.7 228.1,272.6 227.8,273.9C227.5,275.2 226.1,276.1 224.8,277.1C223.4,278.1 222.9,278.2 220.9,278.9C219.0,279.5 217.1,279.9 215.0,280.4C212.8,280.9 211.4,280.5 210.2,281.3C209.0,282.2 209.6,283.4 209.0,284.8C208.5,286.1 208.2,286.9 207.5,288.0C206.8,289.2 206.4,289.3 205.4,290.3C204.4,291.4 203.6,292.1 202.5,293.2C201.4,294.3 201.0,294.7 199.8,295.7C198.7,296.7 198.0,297.3 197.0,298.2C195.9,299.1 194.9,299.5 194.7,300.3C194.5,301.1 195.1,301.7 196.0,302.4C196.9,303.1 198.2,303.3 199.1,303.9C199.9,304.6 200.6,304.8 200.2,305.7C199.9,306.6 198.5,307.6 197.4,308.5C196.2,309.5 195.6,309.5 194.5,310.5C193.3,311.4 192.6,312.2 191.6,313.3C190.7,314.5 189.9,315.1 189.7,316.2C189.5,317.4 190.8,318.3 190.7,319.1C190.5,319.8 189.5,320.2 188.7,320.0C188.0,319.9 187.8,318.9 186.8,318.5C185.9,318.1 185.3,318.6 183.9,318.1C182.6,317.7 181.5,317.2 180.1,316.2C178.8,315.2 178.0,314.5 177.2,313.3C176.5,312.2 176.1,311.8 176.3,310.5C176.5,309.1 177.4,308.0 178.2,306.6C179.0,305.3 179.5,305.1 180.1,303.8C180.7,302.4 181.1,301.5 181.1,299.9C181.1,298.4 180.1,297.8 180.1,296.1C180.1,294.4 181.1,293.0 181.1,291.3C181.1,289.6 179.9,289.4 180.1,287.5C180.3,285.6 181.5,283.8 182.0,281.7C182.6,279.6 182.4,278.9 183.0,276.9C183.6,275.0 184.3,274.1 184.9,272.1C185.5,270.2 185.7,269.5 185.9,267.4C186.1,265.2 185.5,263.9 185.9,261.6C186.2,259.3 187.0,257.8 187.8,255.9C188.5,253.9 188.9,253.6 189.7,252.0C190.5,250.5 190.8,249.7 191.6,248.2C192.4,246.7 192.8,245.9 193.5,244.4C194.3,242.8 193.9,241.7 195.4,240.5Z" fill="none" stroke="#3f4a5c" stroke-width="0.6" stroke-dasharray="1.8 0.6" clip-path="url(#bandarg)"/>
<path d="M190.7,322.0C191.1,322.0 191.6,323.1 192.6,323.9C193.5,324.6 194.1,325.0 195.4,325.8C196.8,326.6 197.2,327.2 199.3,327.7C201.4,328.2 204.8,328.0 206.0,328.3C207.1,328.6 206.6,329.0 205.0,329.2C203.5,329.5 200.6,329.6 198.3,329.6C196.0,329.6 195.0,329.8 193.5,329.2C192.1,328.7 191.7,327.8 191.0,326.7C190.4,325.7 190.3,324.8 190.3,323.9C190.2,322.9 190.2,322.0 190.7,322.0Z" fill="#6f9fd2"/>
<g clip-path="url(#c_bra)"><rect x="300" y="230" width="100" height="110" fill="#169a3d"/>
<polygon points="315.7,274.1 357.5,243.8 393.1,267.9 357.5,306.2" fill="#f3b714"/>
</g>
<ellipse cx="357.5" cy="273.9" rx="18.3" ry="20.2" fill="#2a247e"/>
<clipPath id="bdisc"><ellipse cx="357.5" cy="273.9" rx="18.3" ry="20.2"/></clipPath>
<path d="M339.3,266.8 Q359.4,262.6 375.7,276.9" fill="none" stroke="#e4e6f0" stroke-width="3" clip-path="url(#bdisc)"/>
<circle cx="342.5" cy="271.2" r="0.55" fill="#c9b8e8"/>
<circle cx="344.4" cy="280.2" r="0.55" fill="#c9b8e8"/>
<circle cx="347.9" cy="277.9" r="0.55" fill="#c9b8e8"/>
<circle cx="350.2" cy="274.4" r="0.55" fill="#c9b8e8"/>
<circle cx="350.2" cy="285.6" r="0.55" fill="#c9b8e8"/>
<circle cx="355.6" cy="280.2" r="0.55" fill="#c9b8e8"/>
<circle cx="357.5" cy="284.6" r="0.55" fill="#c9b8e8"/>
<circle cx="359.8" cy="279.4" r="0.55" fill="#c9b8e8"/>
<circle cx="363.2" cy="287.5" r="0.55" fill="#c9b8e8"/>
<circle cx="366.1" cy="289.4" r="0.55" fill="#c9b8e8"/>
<circle cx="367.4" cy="286.5" r="0.55" fill="#c9b8e8"/>
<circle cx="369.9" cy="282.7" r="0.55" fill="#c9b8e8"/>
<circle cx="371.3" cy="285.9" r="0.55" fill="#c9b8e8"/>
<circle cx="357.5" cy="291.3" r="0.55" fill="#c9b8e8"/>
<circle cx="363.2" cy="267.4" r="0.55" fill="#c9b8e8"/>
<circle cx="346.9" cy="282.7" r="0.55" fill="#c9b8e8"/>
<g clip-path="url(#c_ecu)"><rect x="455" y="230" width="100" height="51.9" fill="#fcd70c"/><rect x="455" y="281.9" width="100" height="22.4" fill="#1d4ea6"/><rect x="455" y="304.3" width="100" height="40" fill="#e8202e"/>
<polygon points="476.3,291.6 478.3,291 478.9,295 477.8,299.6 475.3,301.2 475.8,297.2 476.9,294.6" fill="#f1f4fa"/>
</g>
<path d="M482.3,279.5 q2.6,-2.2 5.6,-1.4 q2,0.6 3.3,2.4 q1.3,-1.8 3.3,-2.4 q3,-0.8 5.6,1.4 q-4,-0.2 -6.2,2.6 l-1,1.6 h-3.4 l-1,-1.6 q-2.2,-2.8 -6.2,-2.6z" fill="#3b2a17"/>
<ellipse cx="491.2" cy="292.1" rx="7.1" ry="8.5" fill="#3d5f86" stroke="#d8bd4c" stroke-width="2"/>
<clipPath id="ecov"><ellipse cx="491.2" cy="291.5" rx="4.7" ry="6.3"/></clipPath>
<g clip-path="url(#ecov)"><rect x="485.2" y="284.1" width="12" height="5.2" fill="#cfe0e6"/><rect x="485.2" y="289.3" width="12" height="1.6" fill="#f4f4ee"/><rect x="485.2" y="290.9" width="12" height="3.4" fill="#7fae8e"/><rect x="485.2" y="294.3" width="12" height="5" fill="#4f8fa6"/></g>
<ellipse cx="491.2" cy="291.5" rx="4.7" ry="6.3" fill="none" stroke="#8a5a3a" stroke-width="0.7"/>
<path d="M488.2,300.7 l1.6,2.8 M494.2,300.7 l-1.6,2.8 M491.2,300.1 v3.4" stroke="#caa94a" stroke-width="1.1" fill="none"/>
<polygon points="637.9,251.1 640.8,252.0 642.7,255.3 637.9,255.3" fill="#1b3d9c"/>
<polygon points="637.9,267.4 652.3,267.4 654.2,264.5 656.1,267.4 660.9,270.2 663.8,275.0 664.3,277.9 637.9,277.9" fill="#1b3d9c"/>
<polygon points="605.3,289.4 665.7,289.4 663.8,293.2 665.7,297.0 663.8,299.9 603.4,299.9 602.5,295.1 604.4,291.3" fill="#1b3d9c"/>
<polygon points="607.2,311.4 663.8,311.4 661.8,315.2 658.0,319.1 653.2,322.0 647.5,323.9 641.7,322.9 636.0,323.9 630.2,322.0 624.5,320.0 618.7,317.2 613.0,315.2 609.2,313.3" fill="#1b3d9c"/>
<g stroke="#8a7326" stroke-width="0.3" fill="#f6cf22" stroke-linejoin="round">
<polygon points="613.1,255.6 614.7,248.2 618.1,242.6 616.7,248.4 615.3,255.6"/>
<polygon points="615.2,255.6 619.2,250.2 623.9,246.8 620.8,251.1 617.3,256.5"/>
<polygon points="617.1,256.4 623.1,252.7 629.0,251.3 624.3,254.2 618.7,258.0"/>
<polygon points="618.6,257.8 624.7,257.0 629.8,258.0 625.1,258.8 619.5,259.9"/>
<polygon points="619.5,259.8 625.9,261.4 630.6,264.4 625.6,263.2 619.5,262.0"/>
<polygon points="619.5,261.9 624.3,265.6 627.3,269.9 623.4,267.1 618.6,264.0"/>
<polygon points="618.7,263.8 622.4,269.8 623.8,275.7 620.9,271.0 617.1,265.4"/>
<polygon points="617.3,265.3 618.3,272.0 617.3,277.7 616.5,272.5 615.2,266.2"/>
<polygon points="615.3,266.2 613.7,273.6 610.3,279.2 611.7,273.4 613.1,266.2"/>
<polygon points="613.2,266.2 609.8,270.4 605.9,273.0 608.3,269.6 611.1,265.3"/>
<polygon points="611.3,265.4 607.5,267.1 604.1,267.5 606.6,265.9 609.7,263.8"/>
<polygon points="609.8,264.0 607.0,263.5 604.9,262.6 606.7,262.4 608.9,261.9"/>
<polygon points="608.9,262.0 606.5,260.6 604.8,258.9 606.6,259.4 608.9,259.8"/>
<polygon points="608.9,259.9 607.3,257.7 606.4,255.6 607.9,256.6 609.8,257.8"/>
<polygon points="609.7,258.0 608.0,254.2 607.6,250.8 609.2,253.3 611.3,256.4"/>
<polygon points="611.1,256.5 610.6,251.1 611.5,246.5 612.2,250.6 613.2,255.6"/>
<circle cx="614.2" cy="260.9" r="5.9"/>
</g>
<line x1="616.3" y1="247.2" x2="618.1" y2="242.6" stroke="#5f5a3c" stroke-width="0.9" stroke-linecap="round"/>
<line x1="620.8" y1="250.1" x2="623.9" y2="246.8" stroke="#5f5a3c" stroke-width="0.9" stroke-linecap="round"/>
<line x1="624.8" y1="253.2" x2="629.0" y2="251.3" stroke="#5f5a3c" stroke-width="0.9" stroke-linecap="round"/>
<line x1="625.6" y1="258.1" x2="629.8" y2="258.0" stroke="#5f5a3c" stroke-width="0.9" stroke-linecap="round"/>
<line x1="626.5" y1="262.8" x2="630.6" y2="264.4" stroke="#5f5a3c" stroke-width="0.9" stroke-linecap="round"/>
<line x1="624.2" y1="267.0" x2="627.3" y2="269.9" stroke="#5f5a3c" stroke-width="0.9" stroke-linecap="round"/>
<line x1="621.9" y1="271.5" x2="623.8" y2="275.7" stroke="#5f5a3c" stroke-width="0.9" stroke-linecap="round"/>
<line x1="617.2" y1="273.2" x2="617.3" y2="277.7" stroke="#5f5a3c" stroke-width="0.9" stroke-linecap="round"/>
<line x1="612.1" y1="274.6" x2="610.3" y2="279.2" stroke="#5f5a3c" stroke-width="0.9" stroke-linecap="round"/>
<line x1="608.5" y1="270.1" x2="605.9" y2="273.0" stroke="#5f5a3c" stroke-width="0.9" stroke-linecap="round"/>
<line x1="607.0" y1="266.2" x2="604.1" y2="267.5" stroke="#5f5a3c" stroke-width="0.9" stroke-linecap="round"/>
<line x1="608.9" y1="253.7" x2="607.6" y2="250.8" stroke="#5f5a3c" stroke-width="0.9" stroke-linecap="round"/>
<line x1="611.7" y1="250.4" x2="611.5" y2="246.5" stroke="#5f5a3c" stroke-width="0.9" stroke-linecap="round"/>
<circle cx="612.1" cy="259.3" r="0.85" fill="#7a5a14"/><circle cx="616.3" cy="259.3" r="0.85" fill="#7a5a14"/><ellipse cx="614.2" cy="263.5" rx="1.7" ry="0.8" fill="#c98a1a"/>
<path d="M27.0,398.4C28.4,397.5 29.7,397.2 31.8,396.5C33.9,395.8 35.1,395.3 37.6,395.0C40.1,394.6 41.8,394.7 44.3,394.6C46.8,394.5 48.3,394.0 50.0,394.6C51.7,395.2 51.7,396.1 52.9,397.5C54.0,398.8 54.6,399.8 55.8,401.3C56.9,402.8 57.9,403.4 58.6,405.1C59.4,406.8 59.2,408.0 59.6,409.9C60.0,411.8 60.2,412.8 60.6,414.7C60.9,416.6 61.5,417.8 61.5,419.5C61.5,421.2 60.2,422.2 60.6,423.3C60.9,424.4 61.7,424.4 63.4,424.8C65.2,425.3 67.1,425.6 69.2,425.6C71.3,425.6 72.2,424.8 74.0,424.8C75.7,424.8 76.6,425.1 77.8,425.6C79.0,426.1 79.5,426.1 80.1,427.5C80.7,429.0 80.2,430.7 80.7,432.9C81.2,435.1 81.6,436.7 82.6,438.6C83.5,440.6 83.9,441.3 85.5,442.5C87.0,443.6 88.7,443.6 90.2,444.4C91.8,445.2 92.5,445.0 93.1,446.3C93.8,447.6 93.7,449.2 93.5,451.1C93.3,453.0 92.6,454.0 92.2,455.9C91.7,457.8 91.6,458.8 91.2,460.7C90.8,462.6 90.8,463.5 90.2,465.5C89.7,467.4 89.3,468.5 88.3,470.2C87.4,472.0 86.6,472.5 85.5,474.1C84.3,475.6 83.7,476.6 82.6,477.9C81.4,479.3 81.1,479.8 79.7,480.8C78.4,481.7 77.4,482.2 75.9,482.7C74.3,483.2 73.6,483.3 72.0,483.1C70.5,482.9 69.9,482.2 68.2,481.7C66.5,481.3 65.2,481.0 63.4,480.8C61.7,480.6 60.9,481.0 59.6,480.8C58.3,480.6 56.9,480.6 56.7,479.8C56.5,479.1 57.9,478.3 58.6,477.0C59.4,475.6 59.8,474.7 60.6,473.1C61.3,471.6 61.7,470.8 62.5,469.3C63.2,467.8 64.2,467.0 64.4,465.5C64.6,463.9 64.0,463.2 63.4,461.6C62.9,460.1 62.3,459.1 61.5,457.8C60.7,456.5 60.7,455.9 59.6,454.9C58.4,454.0 57.5,453.8 55.8,453.0C54.0,452.2 52.9,452.0 51.0,451.1C49.1,450.1 48.1,449.2 46.2,448.2C44.3,447.3 43.3,447.3 41.4,446.3C39.5,445.3 38.5,444.8 36.6,443.4C34.7,442.1 33.5,441.1 31.8,439.6C30.1,438.1 29.5,437.3 28.0,435.8C26.5,434.2 25.5,433.5 24.2,431.9C22.8,430.4 22.2,429.4 21.3,428.1C20.3,426.8 19.6,426.6 19.4,425.2C19.2,423.9 19.9,423.1 20.3,421.4C20.7,419.7 20.9,418.5 21.3,416.6C21.7,414.7 22.2,413.4 22.2,411.8C22.2,410.3 21.1,410.3 21.3,408.9C21.5,407.6 22.4,406.6 23.2,405.1C24.0,403.6 24.3,402.6 25.1,401.3C25.9,399.9 25.7,399.4 27.0,398.4Z" fill="#fff" stroke="#d5d7da" stroke-width="1.2"/>
<g clip-path="url(#c_par)"><rect x="5" y="385" width="100" height="42.3" fill="#da1f29"/><rect x="5" y="425.9" width="100" height="1.4" fill="#b51b27"/><rect x="5" y="427.3" width="100" height="26.7" fill="#ffffff"/><rect x="5" y="454" width="100" height="40" fill="#1a3fa6"/></g>
<circle cx="61.4" cy="441.2" r="8" fill="#fdf6f4" stroke="#cf4a48" stroke-width="0.9"/>
<circle cx="61.4" cy="441.2" r="6" fill="#fbf3ee" stroke="#b8363a" stroke-width="1.5"/>
<circle cx="61.4" cy="441.2" r="3.5" fill="#e6ebe6" stroke="#2f7d55" stroke-width="1.3"/>
<circle cx="61.4" cy="441.2" r="1.3" fill="#9fb6c6"/>
<g clip-path="url(#c_col)"><rect x="150" y="385" width="100" height="55.6" fill="#fdf723"/><rect x="150" y="440.6" width="100" height="24.5" fill="#0a0ae6"/><rect x="150" y="465.1" width="100" height="40" fill="#f01212"/></g>
<path d="M355.6,384.2C356.7,384.2 357.9,384.7 359.4,385.7C360.9,386.8 361.7,388.0 363.2,389.6C364.8,391.1 365.7,391.9 367.0,393.4C368.4,394.9 368.6,396.7 369.9,397.2C371.3,397.8 372.0,396.7 373.8,396.3C375.5,395.9 376.8,395.3 378.5,395.3C380.3,395.3 381.0,395.5 382.4,396.3C383.7,397.0 384.9,397.8 385.2,399.2C385.6,400.5 384.1,401.8 384.3,403.0C384.5,404.1 386.2,404.3 386.2,404.9C386.2,405.5 385.4,405.5 384.3,405.9C383.1,406.2 382.2,406.2 380.5,406.8C378.7,407.4 377.2,408.0 375.7,408.7C374.1,409.5 373.9,409.7 372.8,410.7C371.6,411.6 370.9,412.2 369.9,413.5C369.0,414.9 368.6,416.0 368.0,417.4C367.4,418.7 366.9,419.1 367.0,420.2C367.2,421.4 368.2,421.8 369.0,423.1C369.7,424.4 370.3,425.2 370.9,426.9C371.5,428.7 371.5,430.0 371.8,431.7C372.1,433.4 371.6,434.4 372.4,435.6C373.2,436.7 374.3,437.1 375.7,437.5C377.1,437.9 378.0,437.9 379.5,437.5C381.0,437.1 382.4,435.2 383.3,435.6C384.3,435.9 384.1,437.9 384.3,439.4C384.5,440.9 383.3,441.9 384.3,443.2C385.2,444.6 387.5,444.9 389.1,446.1C390.6,447.2 391.0,447.4 392.0,449.0C392.9,450.5 393.6,451.8 393.9,453.8C394.2,455.7 393.9,456.6 393.5,458.5C393.1,460.5 392.5,461.4 392.0,463.3C391.5,465.2 390.8,466.4 391.0,468.1C391.2,469.8 392.3,470.0 392.9,472.0C393.5,473.9 394.1,475.4 393.9,477.7C393.7,480.0 392.9,482.0 392.0,483.4C391.0,484.9 391.0,485.0 389.1,485.0C387.2,485.0 384.9,484.7 382.4,483.4C379.9,482.2 378.9,480.4 376.6,478.7C374.3,476.9 373.2,476.4 370.9,474.8C368.6,473.3 367.4,472.7 365.1,471.0C362.8,469.3 361.5,468.1 359.4,466.2C357.3,464.3 356.3,463.5 354.6,461.4C352.9,459.3 352.3,458.2 350.8,455.7C349.2,453.2 348.3,451.5 346.9,449.0C345.6,446.5 345.2,445.5 344.1,443.2C342.9,440.9 342.3,439.8 341.2,437.5C340.0,435.2 339.5,433.8 338.3,431.7C337.2,429.6 336.8,428.7 335.4,426.9C334.1,425.2 333.1,424.3 331.6,423.1C330.1,422.0 329.3,422.0 327.8,421.2C326.2,420.4 324.9,420.6 323.9,419.3C323.0,417.9 323.0,416.4 323.0,414.5C323.0,412.6 323.2,411.2 323.9,409.7C324.7,408.2 325.9,407.0 326.8,406.8C327.8,406.6 327.8,407.8 328.7,408.7C329.7,409.7 330.5,411.0 331.6,411.6C332.8,412.2 333.3,412.4 334.5,411.6C335.6,410.8 336.2,409.3 337.4,407.8C338.5,406.2 338.9,405.3 340.2,403.9C341.6,402.6 342.5,402.2 344.1,401.1C345.6,399.9 346.6,399.5 347.9,398.2C349.2,396.9 349.8,396.1 350.8,394.4C351.7,392.6 352.1,391.3 352.7,389.6C353.3,387.9 353.1,386.8 353.6,385.7C354.2,384.7 354.4,384.2 355.6,384.2Z" fill="#fff" stroke="#cfd2d6" stroke-width="1"/>
<g clip-path="url(#c_per)"><rect x="300" y="380" width="46.6" height="110" fill="#da1d22"/><rect x="371.3" y="380" width="40" height="110" fill="#da1d22"/></g>
<path d="M352.8,422.2 Q347.4,428.0 353.8,433.6" fill="none" stroke="#1f7a4c" stroke-width="2.4" stroke-linecap="round"/>
<path d="M362.4,422.2 Q367.8,428.0 361.4,433.6" fill="none" stroke="#1f7a4c" stroke-width="2.4" stroke-linecap="round"/>
<path d="M353.5,422.2 h8.2 v5.6 q0,3.6 -4.1,4.9 q-4.1,-1.3 -4.1,-4.9z" fill="#b9482d" stroke="#d9c9a0" stroke-width="0.5"/>
<rect x="353.8" y="422.4" width="7.6" height="3.8" fill="#cfe0d0"/>
<circle cx="357.6" cy="419.8" r="1.9" fill="none" stroke="#3b8a5a" stroke-width="0.9"/>
<defs><linearGradient id="chg" x1="0" y1="0" x2="0" y2="1"><stop offset="0" stop-color="#e35a22"/><stop offset="0.6" stop-color="#d54a1c"/><stop offset="1" stop-color="#b23517"/></linearGradient></defs>
<path d="M490.4,405.1C491.6,404.3 493.7,404.2 496.2,404.2C498.7,404.2 500.0,404.9 502.9,405.1C505.8,405.3 509.2,404.5 510.6,405.1C511.9,405.7 510.6,407.2 509.6,408.0C508.6,408.8 507.1,408.2 505.8,408.9C504.4,409.7 503.7,410.5 502.9,411.8C502.1,413.2 502.7,414.3 501.9,415.7C501.2,417.0 499.8,417.2 499.1,418.5C498.3,419.9 498.7,421.0 498.1,422.4C497.5,423.7 496.0,424.1 496.2,425.2C496.4,426.4 498.3,426.8 499.1,428.1C499.8,429.4 500.2,430.4 500.0,431.9C499.8,433.5 498.9,434.2 498.1,435.8C497.3,437.3 496.6,438.1 496.2,439.6C495.8,441.1 495.8,442.1 496.2,443.4C496.6,444.8 497.7,445.0 498.1,446.3C498.5,447.6 497.7,448.6 498.1,450.1C498.5,451.7 499.3,452.2 500.0,454.0C500.8,455.7 501.7,456.8 501.9,458.8C502.1,460.7 501.0,461.8 501.0,463.5C501.0,465.3 501.4,465.8 501.9,467.4C502.5,468.9 502.7,470.1 503.9,471.2C505.0,472.4 505.8,472.4 507.7,473.1C509.6,473.8 510.9,474.1 513.4,474.7C515.9,475.2 517.8,475.2 520.1,476.0C522.4,476.8 523.2,477.7 524.9,478.9C526.6,480.0 527.0,480.8 528.8,481.7C530.5,482.7 532.7,482.9 533.5,483.7C534.4,484.4 534.1,485.2 533.2,485.6C532.2,486.0 530.8,485.8 528.8,485.6C526.7,485.4 525.3,485.0 523.0,484.6C520.7,484.2 519.6,484.2 517.3,483.7C515.0,483.1 513.8,482.5 511.5,481.7C509.2,481.0 508.1,480.6 505.8,479.8C503.5,479.1 501.9,478.7 500.0,477.9C498.1,477.1 497.5,477.1 496.2,476.0C494.8,474.8 494.5,473.5 493.3,472.2C492.2,470.8 491.8,470.2 490.4,469.3C489.1,468.3 488.0,468.3 486.6,467.4C485.3,466.4 484.7,465.8 483.7,464.5C482.8,463.2 482.4,462.2 481.8,460.7C481.2,459.1 480.7,458.2 480.9,456.8C481.1,455.5 482.2,455.3 482.8,454.0C483.4,452.6 483.7,451.7 483.7,450.1C483.7,448.6 482.8,447.8 482.8,446.3C482.8,444.8 483.9,443.8 483.7,442.5C483.5,441.1 481.8,440.7 481.8,439.6C481.8,438.4 483.0,438.1 483.7,436.7C484.5,435.4 485.1,434.6 485.7,432.9C486.2,431.2 486.0,429.8 486.6,428.1C487.2,426.4 488.1,426.0 488.5,424.3C488.9,422.5 488.1,421.2 488.5,419.5C488.9,417.8 489.9,417.2 490.4,415.7C491.0,414.1 491.4,413.4 491.4,411.8C491.4,410.3 490.6,409.3 490.4,408.0C490.2,406.6 489.3,405.9 490.4,405.1Z" fill="url(#chg)" stroke="#b8401a" stroke-width="0.5"/>
<path d="M492.4,396.5C493.0,394.9 493.7,394.8 495.2,394.6C496.8,394.4 497.5,394.9 499.1,395.5C500.6,396.2 501.3,395.9 501.9,397.5C502.6,399.0 502.4,400.7 501.9,402.2C501.5,403.8 501.8,403.7 500.0,404.2C498.2,404.6 496.1,404.8 494.3,404.2C492.5,403.5 492.8,403.1 492.4,401.3C491.9,399.5 491.7,398.1 492.4,396.5Z" fill="#1c52c4"/>
<ellipse cx="489.1" cy="452.4" rx="0.9" ry="2.6" fill="#f3d9b8"/>
<g clip-path="url(#c_bol)"><rect x="585" y="385" width="100" height="39.7" fill="#d92c1f"/><rect x="585" y="424.7" width="100" height="31.1" fill="#fbe106"/><rect x="585" y="455.8" width="100" height="40" fill="#0f7b34"/></g>
<path d="M624.2,433.8 l3.6,-8 l1.1,4.8 l3.5,2.2 l3.5,-2.2 l1.1,-4.8 l3.6,8 l-3.8,2.8 h-8.8z" fill="#2b2517"/>
<path d="M619.2,437.6 q1.6,-3.4 3.2,-0.4 q1.4,-3 2.8,0 v12.6 q-2.4,3.2 -6.4,1.6 q-0.8,-7 0.4,-13.8z" fill="#c5431d"/>
<path d="M645.6,437.6 q-1.6,-3.4 -3.2,-0.4 q-1.4,-3 -2.8,0 v12.6 q2.4,3.2 6.4,1.6 q0.8,-7 -0.4,-13.8z" fill="#c5431d"/>
<path d="M625.9,451.8 q6.5,5.2 13,0 l1,2 q-7.5,4.4 -15,0z" fill="#c8641e"/>
<ellipse cx="632.4" cy="443.4" rx="7.6" ry="8.7" fill="#27896f"/>
<path d="M625.8,439.2 a7.6,8.7 0 0 1 13.2,0 l-1.6,1 a5.6,6.6 0 0 0 -10,0z" fill="#bcd6e6"/>
<ellipse cx="632.4" cy="443.6" rx="5.5" ry="6.5" fill="#2f9a63"/>
<path d="M627.8,442.4 a4.6,4.6 0 0 1 9.2,0z" fill="#e6cf7a"/>
<circle cx="632.4" cy="440.8" r="2.1" fill="#c8802a"/>
<path d="M627.8,442.6 l4.6,-2.4 l4.6,2.4z" fill="#6f8a4a"/>
<circle cx="632.4" cy="447.0" r="1.6" fill="#1f6f7a"/>
</g>
<rect x="68.20" y="504.9" width="4.4" height="4.1" fill="#a0368a"/>
<rect x="75.12" y="504.9" width="4.4" height="4.1" fill="#b01c2e"/>
<rect x="82.04" y="504.9" width="4.4" height="4.1" fill="#e08a20"/>
<rect x="88.96" y="504.9" width="4.4" height="4.1" fill="#e0aa30"/>
<rect x="95.88" y="504.9" width="4.4" height="4.1" fill="#a6a43e"/>
<rect x="102.80" y="504.9" width="4.4" height="4.1" fill="#2e8ea8"/>
<text x="68.3" y="521" font-size="10.8" font-weight="bold" fill="#555657" textLength="91.4" lengthAdjust="spacingAndGlyphs">www.undav.edu.ar</text>
<text x="281.2" y="515.5" font-size="10.1" font-weight="bold" fill="#6b6b6b" stroke="#6b6b6b" stroke-width="0.15" textLength="388" lengthAdjust="spacingAndGlyphs">Fuente: elaboración propia en base a datos de Bloomberg e institutos de estadística regionales.</text>
</svg>
</body></html>
